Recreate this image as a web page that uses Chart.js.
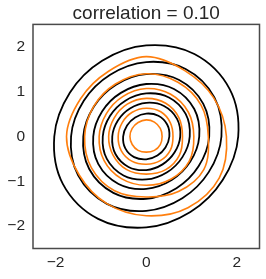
<!DOCTYPE html>
<html lang="en">
<head>
    <meta charset="UTF-8">
    <title>correlation = 0.10</title>
    <script src="https://cdn.jsdelivr.net/npm/chart.js"></script>
    <style>
        body { margin: 0; background: #fff; overflow: hidden; }
        #chart { display: block; }
    </style>
</head>
<body>
    <canvas id="chart" width="266" height="279"></canvas>
    <script>
    // tick labels
    const xTicks = [-2, 0, 2];
    const yTicks = [-2, -1, 0, 1, 2];

    // black: contours of the bivariate normal, outer to inner (x, y pairs, every 30 degrees)
    const normal1 = [[2.03, 0], [1.839, 1.062], [1.062, 1.839], [0, 2.03], [-0.974, 1.687], [-1.687, 0.974],
                     [-2.03, 0], [-1.839, -1.062], [-1.062, -1.839], [0, -2.03], [0.974, -1.687], [1.687, -0.974]];
    const normal2 = [[1.66, 0], [1.504, 0.869], [0.869, 1.504], [0, 1.66], [-0.796, 1.379], [-1.379, 0.796],
                     [-1.66, 0], [-1.504, -0.869], [-0.869, -1.504], [0, -1.66], [0.796, -1.379], [1.379, -0.796]];
    const normal3 = [[1.39, 0], [1.259, 0.727], [0.727, 1.259], [0, 1.39], [-0.667, 1.155], [-1.155, 0.667],
                     [-1.39, 0], [-1.259, -0.727], [-0.727, -1.259], [0, -1.39], [0.667, -1.155], [1.155, -0.667]];
    const normal4 = [[1.17, 0], [1.060, 0.612], [0.612, 1.060], [0, 1.17], [-0.561, 0.972], [-0.972, 0.561],
                     [-1.17, 0], [-1.060, -0.612], [-0.612, -1.060], [0, -1.17], [0.561, -0.972], [0.972, -0.561]];
    const normal5 = [[0.96, 0], [0.870, 0.502], [0.502, 0.870], [0, 0.96], [-0.461, 0.798], [-0.798, 0.461],
                     [-0.96, 0], [-0.870, -0.502], [-0.502, -0.870], [0, -0.96], [0.461, -0.798], [0.798, -0.461]];
    const normal6 = [[0.75, 0], [0.680, 0.392], [0.392, 0.680], [0, 0.75], [-0.360, 0.623], [-0.623, 0.360],
                     [-0.75, 0], [-0.680, -0.392], [-0.392, -0.680], [0, -0.75], [0.360, -0.623], [0.623, -0.360]];
    const normal7 = [[0.51, 0], [0.462, 0.267], [0.267, 0.462], [0, 0.51], [-0.245, 0.424], [-0.424, 0.245],
                     [-0.51, 0], [-0.462, -0.267], [-0.267, -0.462], [0, -0.51], [0.245, -0.424], [0.424, -0.245]];

    // orange: contours of the sample density estimate, outer to inner
    const sample1 = [[1.77, 0], [1.49, 0.86], [0.85, 1.47], [0, 1.78], [-0.84, 1.45], [-1.45, 0.84],
                     [-1.76, 0], [-1.48, -0.86], [-0.87, -1.50], [0, -1.77], [0.92, -1.59], [1.61, -0.93]];
    const sample2 = [[1.37, 0], [1.21, 0.70], [0.70, 1.21], [0, 1.40], [-0.68, 1.17], [-1.16, 0.67],
                     [-1.36, 0], [-1.21, -0.70], [-0.70, -1.21], [0, -1.35], [0.71, -1.23], [1.27, -0.74]];
    const sample3 = [[1.05, 0], [0.93, 0.54], [0.54, 0.94], [0, 1.07], [-0.52, 0.89], [-0.88, 0.51],
                     [-1.04, 0], [-0.93, -0.54], [-0.55, -0.94], [0, -1.09], [0.55, -0.95], [0.95, -0.55]];
    const sample4 = [[0.80, 0], [0.72, 0.42], [0.43, 0.74], [0, 0.85], [-0.42, 0.72], [-0.71, 0.41],
                     [-0.83, 0], [-0.73, -0.42], [-0.43, -0.74], [0, -0.84], [0.43, -0.74], [0.73, -0.42]];
    const sample5 = [[0.59, 0], [0.53, 0.31], [0.32, 0.55], [0, 0.63], [-0.31, 0.54], [-0.53, 0.31],
                     [-0.62, 0], [-0.55, -0.32], [-0.32, -0.55], [0, -0.62], [0.31, -0.54], [0.53, -0.31]];
    const sample6 = [[0.35, 0], [0.31, 0.18], [0.18, 0.32], [0, 0.37], [-0.18, 0.31], [-0.31, 0.18],
                     [-0.36, 0], [-0.31, -0.18], [-0.18, -0.31], [0, -0.35], [0.18, -0.31], [0.31, -0.18]];

    const normalContours = [normal1, normal2, normal3, normal4, normal5, normal6, normal7];
    const sampleContours = [sample1, sample2, sample3, sample4, sample5, sample6];

    const fontFamily = "'Liberation Sans', Arial, sans-serif";
    const textColor = '#262626';

    function toPoints(c) {
        return c.map(p => ({x: p[0], y: p[1]}));
    }

    function fmt(v) {
        return v < 0 ? '\u2212' + Math.abs(v) : String(v);
    }

    const datasets = [];
    sampleContours.forEach(c => datasets.push({
        data: toPoints(c), borderColor: '#ff7f0e', borderWidth: 1.6, order: 1
    }));
    normalContours.forEach(c => datasets.push({
        data: toPoints(c), borderColor: '#000000', borderWidth: 1.8, order: 2
    }));

    // each contour is a closed curve
    const closedLoops = {
        id: 'closedLoops',
        afterDatasetUpdate(chart, args) {
            args.meta.dataset._loop = true;
            args.meta.dataset._fullLoop = true;
        }
    };

    // box around the plot area
    const frame = {
        id: 'frame',
        afterDatasetsDraw(chart) {
            const a = chart.chartArea;
            const ctx = chart.ctx;
            ctx.save();
            ctx.strokeStyle = '#4a4a4a';
            ctx.lineWidth = 1.5;
            ctx.strokeRect(a.left, a.top, a.right - a.left, a.bottom - a.top);
            ctx.restore();
        }
    };

    new Chart(document.getElementById('chart'), {
        type: 'line',
        data: { datasets: datasets },
        options: {
            responsive: false,
            animation: false,
            devicePixelRatio: 1,
            layout: { padding: { left: 0, right: 6.5, top: 0, bottom: 0 } },
            elements: {
                point: { radius: 0, hoverRadius: 0 },
                line: { tension: 0.35, fill: false }
            },
            plugins: {
                legend: { display: false },
                tooltip: { enabled: false },
                title: {
                    display: true,
                    fullSize: false,
                    text: 'correlation = 0.10',
                    color: textColor,
                    font: { family: fontFamily, size: 19, weight: 'normal', lineHeight: 1.1 },
                    padding: { top: 3.5, bottom: 0 }
                }
            },
            scales: {
                x: {
                    type: 'linear',
                    min: -2.5,
                    max: 2.5,
                    grid: { display: false, drawTicks: false },
                    border: { display: false },
                    afterBuildTicks: s => { s.ticks = xTicks.map(v => ({value: v})); },
                    afterFit: s => { s.height = 30.5; },
                    ticks: {
                        padding: 5,
                        color: textColor,
                        font: { family: fontFamily, size: 15.5 },
                        maxRotation: 0,
                        callback: v => fmt(v)
                    }
                },
                y: {
                    type: 'linear',
                    min: -2.5,
                    max: 2.5,
                    grid: { display: false, drawTicks: false },
                    border: { display: false },
                    afterBuildTicks: s => { s.ticks = yTicks.map(v => ({value: v})); },
                    afterFit: s => { s.width = 33; },
                    ticks: {
                        padding: 8,
                        color: textColor,
                        font: { family: fontFamily, size: 15.5 },
                        callback: v => fmt(v)
                    }
                }
            }
        },
        plugins: [closedLoops, frame]
    });
    </script>
</body>
</html>
